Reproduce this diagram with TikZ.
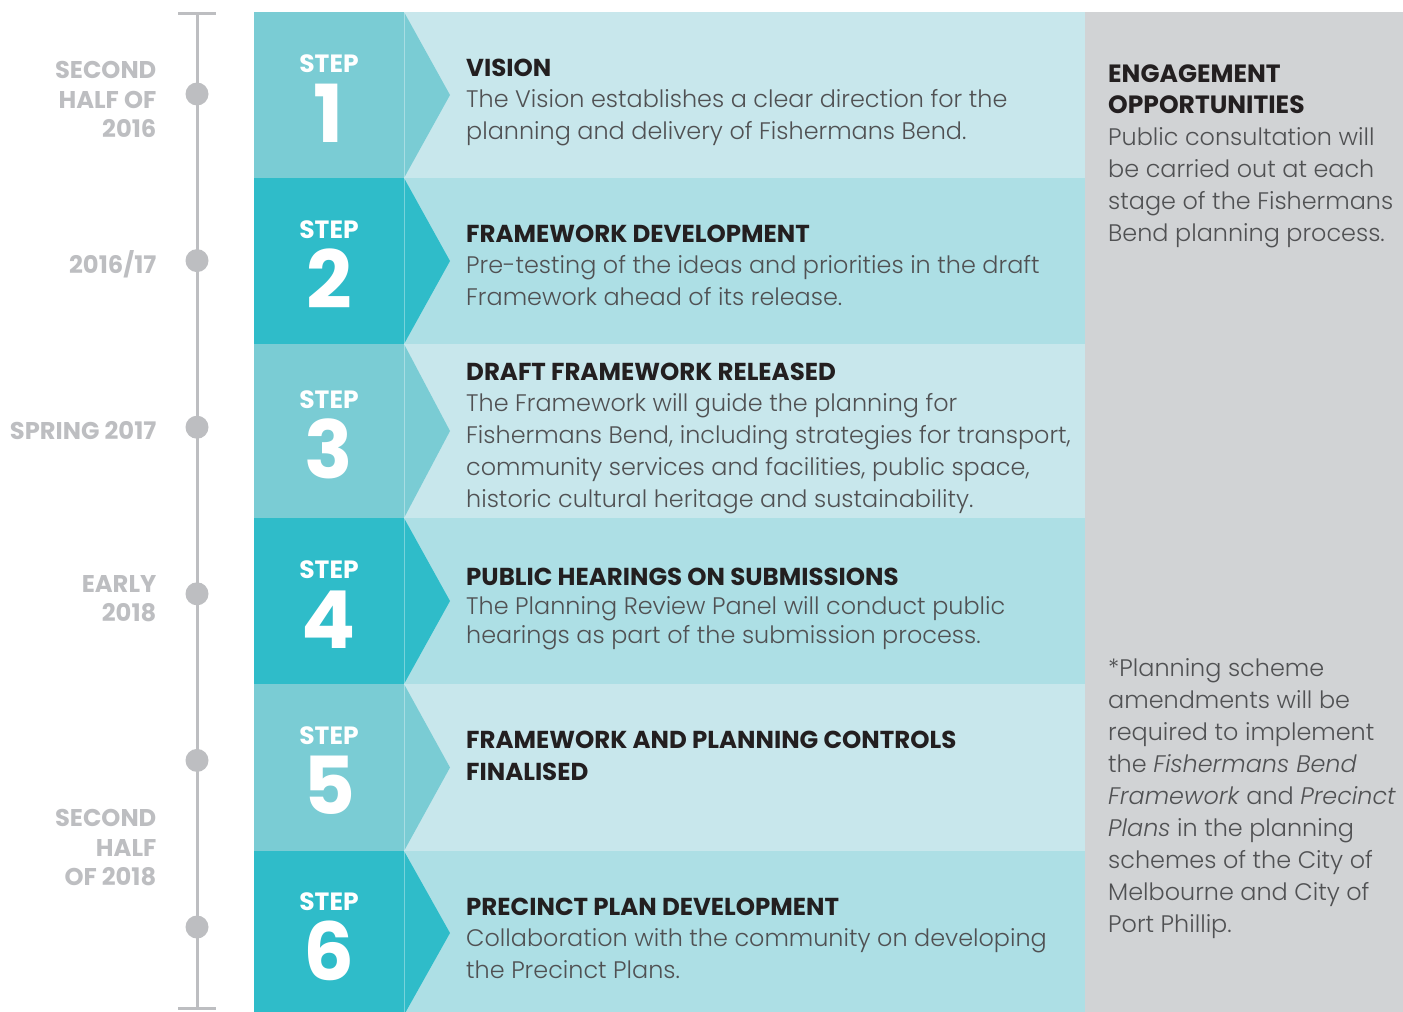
\documentclass[tikz,border=0pt]{standalone}
\usepackage{fontspec}
\setmainfont{Poppins}
\newfontfamily\lightfont{Poppins Light}[ItalicFont={Poppins Light Italic}]
\definecolor{stepA}{HTML}{7ACCD4}
\definecolor{stepB}{HTML}{2FBCC9}
\definecolor{contA}{HTML}{C8E7EC}
\definecolor{contB}{HTML}{ADDFE5}
\definecolor{panelc}{HTML}{D1D3D5}
\definecolor{tlc}{HTML}{BDBEC1}
\definecolor{headc}{HTML}{231F20}
\definecolor{bodyc}{HTML}{505153}
\tikzset{
  bodytxt/.style={anchor=base west, inner sep=0pt, align=left, text=bodyc, font=\lightfont\fontsize{23.9}{32}\selectfont},
  bodytight/.style={anchor=base west, inner sep=0pt, align=left, text=bodyc, font=\lightfont\fontsize{23.9}{29}\selectfont},
  headtxt/.style={anchor=base west, inner sep=0pt, align=left, text=headc, font=\bfseries\fontsize{24.5}{32}\selectfont},
  tlab/.style={anchor=base east, inner sep=0pt, align=right, text=tlc, font=\bfseries\fontsize{24.2}{29.5}\selectfont},
  steplab/.style={anchor=base, inner sep=0pt, text=white, font=\bfseries\fontsize{25}{25}\selectfont},
  stepnum/.style={anchor=base, inner sep=0pt, text=white, font=\bfseries\fontsize{80}{80}\selectfont},
  tdot/.style={circle, fill=tlc, minimum size=23pt, inner sep=0pt},
  tline/.style={draw=tlc, line width=3pt},
  divider/.style={draw=white, draw opacity=0.35, line width=1pt},
}
\newcommand{\steprow}[6]{% top, bottom, mid, stepcolour, contentcolour, number
  \fill[#4] (254,#1) rectangle (404,#2);
  \fill[#5] (404,#1) rectangle (1085,#2);
  \fill[#4] (404,#1) -- (450,#3) -- (404,#2) -- cycle;
  \draw[divider] (404,#1) -- (404,#2);
  \node[steplab] (s#6) at (329,#3-23) {STEP};
  \node[stepnum] (n#6) at (329,#3+47) {#6};
}
\begin{document}
\begin{tikzpicture}[x=1pt,y=-1pt]
\useasboundingbox (0,0) rectangle (1403,1012);
\clip (0,0) rectangle (1403,1012);
\fill[white] (0,0) rectangle (1403,1012);

% rows
\steprow{12}{178}{95}{stepA}{contA}{1}
\steprow{178}{344}{261}{stepB}{contB}{2}
\steprow{344}{518}{431}{stepA}{contA}{3}
\steprow{518}{684}{601}{stepB}{contB}{4}
\steprow{684}{851}{767.5}{stepA}{contA}{5}
\steprow{851}{1015}{933}{stepB}{contB}{6}

% engagement panel
\fill[panelc] (1085,12) rectangle (1403,1012);

% timeline
\coordinate (ttop) at (197,13);
\coordinate (tbot) at (197,1008);
\coordinate (ttl) at (178,13);
\coordinate (ttr) at (216,13);
\coordinate (tbl) at (178,1008);
\coordinate (tbr) at (216,1008);
\draw[tline] (ttop) -- (tbot);
\draw[tline] (ttl) -- (ttr);
\draw[tline] (tbl) -- (tbr);
\node[tdot] (d1) at (197,94) {};
\node[tdot] (d2) at (197,260.6) {};
\node[tdot] (d3) at (197,427.2) {};
\node[tdot] (d4) at (197,593.8) {};
\node[tdot] (d5) at (197,760.4) {};
\node[tdot] (d6) at (197,927) {};

% timeline labels (multi-line nodes are placed by their last line's baseline)
\node[tlab] (l1) at (156.5,137.5) {SECOND\\HALF OF\\2016};
\node[tlab] (l2) at (156.5,273.5) {2016/17};
\node[tlab] (l3) at (156.5,439.5) {SPRING 2017};
\node[tlab] (l4) at (156.5,621.5) {EARLY\\2018};
\node[tlab] (l5) at (156.5,885.5) {SECOND\\HALF\\OF 2018};

% step contents
\node[headtxt] (h1) at (466,76.5) {VISION};
\node[bodytxt] (b1) at (466,139.5) {The Vision establishes a clear direction for the\\planning and delivery of Fishermans Bend.};
\node[headtxt] (h2) at (466,242) {FRAMEWORK DEVELOPMENT};
\node[bodytxt] (b2) at (466,305.5) {Pre-testing of the ideas and priorities in the draft\\Framework ahead of its release.};
\node[headtxt] (h3) at (466,380) {DRAFT FRAMEWORK RELEASED};
\node[bodytxt] (b3) at (466,507.5) {The Framework will guide the planning for\\Fishermans Bend, including strategies for transport,\\community services and facilities, public space,\\historic cultural heritage and sustainability.};
\node[headtxt] (h4) at (466,585) {PUBLIC HEARINGS ON SUBMISSIONS};
\node[bodytight] (b4) at (466,643.5) {The Planning Review Panel will conduct public\\hearings as part of the submission process.};
\node[headtxt] (h5) at (466,780) {FRAMEWORK AND PLANNING CONTROLS\\FINALISED};
\node[headtxt] (h6) at (466,915) {PRECINCT PLAN DEVELOPMENT};
\node[bodytxt] (b6) at (466,978.5) {Collaboration with the community on developing\\the Precinct Plans.};

% panel text
\node[headtxt, font=\bfseries\fontsize{25}{31}\selectfont] (ph) at (1108,113.5) {ENGAGEMENT\\OPPORTUNITIES};
\node[bodytxt] (pb) at (1108,241.5) {Public consultation will\\be carried out at each\\stage of the Fishermans\\Bend planning process.};
\node[bodytxt] (pf) at (1108,932.5) {*Planning scheme\\amendments will be\\required to implement\\the \textit{Fishermans Bend}\\\textit{Framework} and \textit{Precinct}\\\textit{Plans} in the planning\\schemes of the City of\\Melbourne and City of\\Port Phillip.};
\end{tikzpicture}
\end{document}
